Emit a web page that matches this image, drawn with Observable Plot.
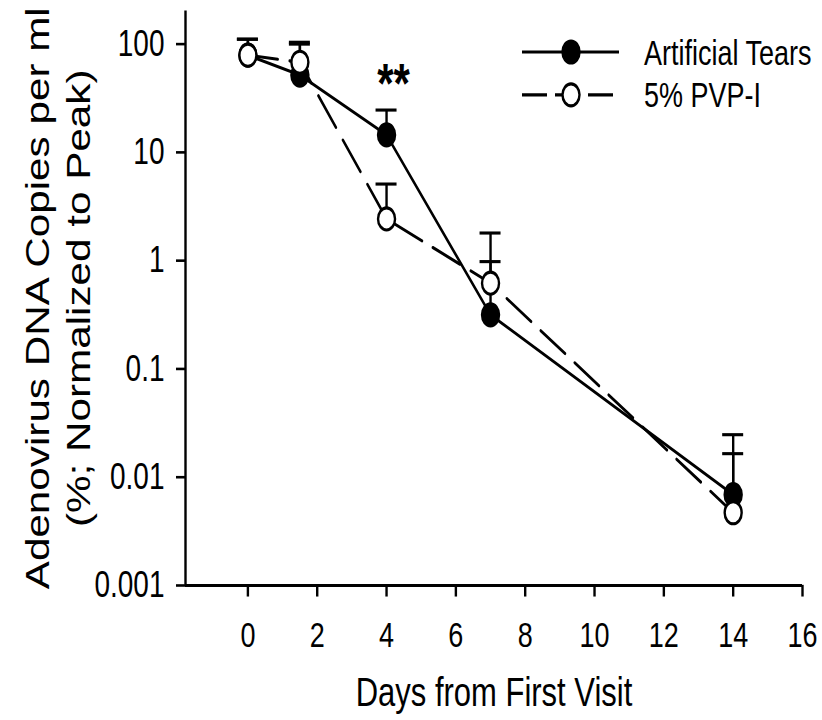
<!DOCTYPE html>
<html><head><meta charset="utf-8">
<script src="https://cdn.jsdelivr.net/npm/d3@7"></script>
<script src="https://cdn.jsdelivr.net/npm/@observablehq/plot@0.6"></script>
<style>
html,body{margin:0;padding:0;background:#fff;}
#chart svg{display:block;}
</style></head><body><div id="chart"></div>
<script>
// ---- data ----
const days = [0, 1.5, 4, 7, 14];
const tearsMean  = [79, 51.8, 14.5, 0.316, 0.0069];
const tearsUpper = [111, 100, 24.6, 0.98, 0.0247];
const pvpMean    = [79, 68, 2.43, 0.62, 0.0047];
const pvpUpper   = [111, 104, 5.1, 1.80, 0.0165];
const seriesNames = ["Artificial Tears", "5% PVP-I"];
const xTicks = [0, 2, 4, 6, 8, 10, 12, 14, 16];
const yTicks = [0.001, 0.01, 0.1, 1, 10, 100];
const yTickLabels = ["0.001", "0.01", "0.1", "1", "10", "100"];
const xTitle = "Days from First Visit";
const yTitle = ["Adenovirus DNA Copies per ml", "(%; Normalized to Peak)"];
const annotation = [{day: 4.2, value: 42, label: "**"}];

// ---- build tables ----
const tears = days.map((d, i) => ({day: d, mean: tearsMean[i], upper: tearsUpper[i], series: seriesNames[0]}));
const pvp = days.map((d, i) => ({day: d, mean: pvpMean[i], upper: pvpUpper[i], series: seriesNames[1]}));
const all = tears.concat(pvp);

const FONT = '"Liberation Sans", Arial, Helvetica, sans-serif';
const W = 822, H = 720, S = 1.3, H0 = Math.round(H / S);
const xDomain = [-1.8, 16];
const yDomain = [0.001, 202];
const LW = 2.4;

const svg = Plot.plot({
  width: W, height: H0,
  marginLeft: 185, marginRight: 20, marginTop: 8, marginBottom: H0 - 450,
  style: {fontFamily: FONT, fontSize: "27px", color: "#000", background: "#fff", overflow: "visible"},
  x: {domain: xDomain},
  y: {type: "log", domain: yDomain},
  marks: [
    Plot.axisX({ticks: xTicks, tickSize: 9, tickPadding: 19, tickFormat: d => String(d), label: null, strokeWidth: LW, fontSize: 27}),
    Plot.axisY({ticks: yTicks, tickSize: 9, tickPadding: 12, tickFormat: d => yTickLabels[yTicks.indexOf(d)], label: null, strokeWidth: 2, fontSize: 28}),
    Plot.ruleX([xDomain[0]], {y1: yDomain[0], y2: yDomain[1], strokeWidth: LW}),
    Plot.ruleY([yDomain[0]], {strokeWidth: 2.4}),
    // error bars
    Plot.ruleX(all, {x: "day", y1: "mean", y2: "upper", strokeWidth: LW}),
    Plot.ruleY(all, {y: "upper", x1: "day", x2: "day", insetLeft: -10.5, insetRight: -10.5, strokeWidth: LW}),
    // lines
    Plot.line(tears, {x: "day", y: "mean", stroke: "#000", strokeWidth: LW}),
    Plot.line(pvp, {x: "day", y: "mean", stroke: "#000", strokeWidth: LW, strokeDasharray: "30,12"}),
    // markers
    Plot.dot(tears, {x: "day", y: "mean", r: 8.5, fill: "#000", stroke: "#000", strokeWidth: LW}),
    Plot.dot(pvp, {x: "day", y: "mean", r: 8.5, fill: "#fff", stroke: "#000", strokeWidth: LW}),
    // significance annotation
    Plot.text(annotation, {x: "day", y: "value", text: "label", fontSize: 42, fontWeight: "bold"}),
    // axis titles
    Plot.text([xTitle], {text: d => d, frameAnchor: "bottom", lineAnchor: "top", dy: 71, fontSize: 31}),
    Plot.text([yTitle.join("\n")], {text: d => d, frameAnchor: "left", textAnchor: "middle", rotate: -90, dx: -129, lineAnchor: "middle", lineHeight: 1.25, fontSize: 32.5})
  ]
});

// ---- legend (inside the plot, upper right) ----
const legendRows = [
  {name: seriesNames[0], y: 40, dash: null, fill: "#000"},
  {name: seriesNames[1], y: 73, dash: "25,8", fill: "#fff"}
];
const lg = d3.select(svg).append("g").attr("font-family", FONT).attr("font-size", 27)
  .attr("fill", "#000").attr("text-anchor", "start");
legendRows.forEach(r => {
  lg.append("line").attr("x1", 522).attr("x2", r.dash ? 613 : 619).attr("y1", r.y).attr("y2", r.y)
    .attr("stroke", "#000").attr("stroke-width", LW).attr("stroke-dasharray", r.dash);
  lg.append("circle").attr("cx", 571).attr("cy", r.y).attr("r", 8.5)
    .attr("fill", r.fill).attr("stroke", "#000").attr("stroke-width", LW);
  lg.append("text").attr("x", 644).attr("y", r.y).attr("dy", "0.36em").attr("text-anchor", "start").text(r.name);
});

// ---- the reference is vertically stretched: stretch the whole drawing ----
svg.setAttribute("preserveAspectRatio", "none");
svg.setAttribute("height", H);
svg.style.height = H + "px";
svg.style.width = W + "px";
svg.style.maxWidth = "none";
document.getElementById("chart").appendChild(svg);
</script>
</body></html>
